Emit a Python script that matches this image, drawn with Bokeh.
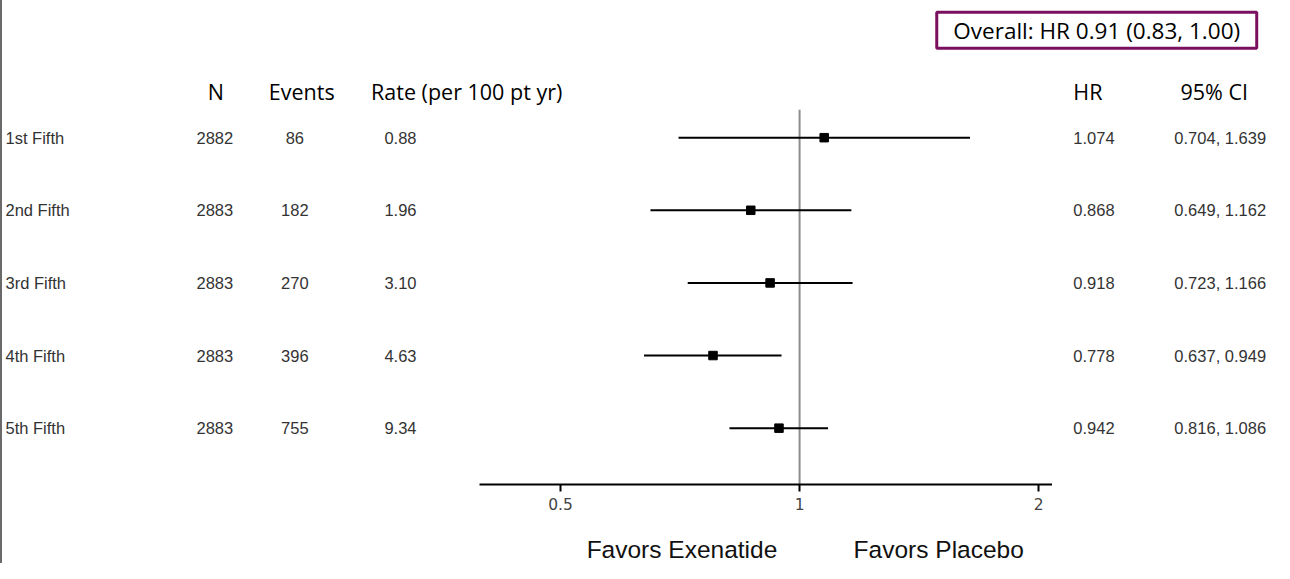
from bokeh.plotting import figure
from bokeh.models import Range1d, ColumnDataSource, FixedTicker, Div
from bokeh.layouts import column, row
from bokeh.embed import file_html
from bokeh.resources import INLINE
from bokeh.core.properties import value

# ---------------- data ----------------
subgroups = ["1st Fifth", "2nd Fifth", "3rd Fifth", "4th Fifth", "5th Fifth"]
n_patients = ["2882", "2883", "2883", "2883", "2883"]
events = ["86", "182", "270", "396", "755"]
rates = ["0.88", "1.96", "3.10", "4.63", "9.34"]
hr = [1.074, 0.868, 0.918, 0.778, 0.942]
ci_low = [0.704, 0.649, 0.723, 0.637, 0.816]
ci_high = [1.639, 1.162, 1.166, 0.949, 1.086]
hr_labels = ["1.074", "0.868", "0.918", "0.778", "0.942"]
ci_labels = ["0.704, 1.639", "0.649, 1.162", "0.723, 1.166", "0.637, 0.949", "0.816, 1.086"]
left_headers = ["N", "Events", "Rate (per 100 pt yr)"]
right_headers = ["HR", "95% CI"]
overall_text = "Overall: HR 0.91 (0.83, 1.00)"
x_ticks = [0.5, 1, 2]
tick_labels = ["0.5", "1", "2"]
null_hr = 1.0
left_label = "Favors Exenatide"
right_label = "Favors Placebo"

rows_y = list(range(len(subgroups)))

# ---------------- layout geometry (reference pixel space 1290 x 579) -------------
SX = 1272 / 1288
SY = 563 / 579
W_L = round(483 * SX)
W_F = round(580 * SX)
W_R = 1272 - W_L - W_F
TOP_END = 112
H_TOP = round(TOP_END * SY)
H_MAIN = round((535 - TOP_END) * SY)
H_BOT = 563 - H_TOP - H_MAIN
AX_H = round(37 * SY)

ROW0 = 141.0
ROWSTEP = 74.75
y_main = Range1d(start=(498 - ROW0) / ROWSTEP, end=(TOP_END - ROW0) / ROWSTEP)

TXT = "#333333"
SANS = value("Liberation Sans")
HEAD = value("Open Sans")


def blank(w, h, xr, yr):
    p = figure(width=w, height=h, x_range=xr, y_range=yr, output_backend="svg",
               toolbar_location=None, x_axis_location=None, y_axis_location=None,
               min_border=0, outline_line_color=None, background_fill_color="white",
               border_fill_color="white")
    p.grid.visible = False
    return p


src = ColumnDataSource(dict(y=rows_y, sub=subgroups, n=n_patients, ev=events, rate=rates,
                            hr=hr, lo=ci_low, hi=ci_high, hrl=hr_labels, cil=ci_labels))

# ---------- top strip: overall box + column headers ----------
top = blank(1272, H_TOP, Range1d(2, 1290), Range1d(TOP_END, 0))
top.quad(left=[948], right=[1272], top=[12], bottom=[49], fill_color=None,
         line_color="#7a1060", line_width=3)
top.text(x=[1110], y=[31], text=[overall_text], text_font=HEAD, text_font_size=value("22.5px"),
         text_align="center", text_baseline="middle", text_color="#000000")
top.text(x=[218, 305, 472, 1101, 1229], y=[94] * 5, text=left_headers + right_headers,
         text_font=HEAD, text_font_size=value("21.5px"), text_align="center",
         text_baseline="middle", text_color="#000000")

# ---------- left table ----------
L = blank(W_L, H_MAIN, Range1d(2, 485), y_main)
L.min_border_bottom = AX_H
L.text(x=5, y="y", text="sub", source=src, text_font=SANS, text_font_size=value("16.5px"),
       text_align="left", text_baseline="middle", text_color=TXT)
L.text(x=217, y="y", text="n", source=src, text_font=SANS, text_font_size=value("16.5px"),
       text_align="center", text_baseline="middle", text_color=TXT)
L.text(x=298, y="y", text="ev", source=src, text_font=SANS, text_font_size=value("16.5px"),
       text_align="center", text_baseline="middle", text_color=TXT)
L.text(x=405, y="y", text="rate", source=src, text_font=SANS, text_font_size=value("16.5px"),
       text_align="center", text_baseline="middle", text_color=TXT)

# ---------- forest ----------
F = figure(width=W_F, height=H_MAIN, x_axis_type="log",
           x_range=Range1d(2 ** ((485 - 809) / 242), 2 ** ((1065 - 809) / 242)),
           y_range=y_main, output_backend="svg", toolbar_location=None,
           y_axis_location=None, min_border=0, min_border_bottom=AX_H,
           outline_line_color=None)
F.grid.visible = False
F.segment(x0=[null_hr], y0=[y_main.end], x1=[null_hr], y1=[y_main.start],
          line_color="#8c8c8c", line_width=2)
F.segment(x0="lo", y0="y", x1="hi", y1="y", source=src, line_color="black", line_width=2)
F.scatter(x="hr", y="y", source=src, marker="square", size=8.5, color="black")
ax = F.xaxis[0]
ax.ticker = FixedTicker(ticks=x_ticks, minor_ticks=[])
ax.major_label_overrides = {t: l for t, l in zip(x_ticks, tick_labels)}
ax.axis_line_width = 2
ax.axis_line_color = "black"
ax.major_tick_line_width = 2
ax.major_tick_line_color = "black"
ax.major_tick_out = 7
ax.major_tick_in = 0
ax.minor_tick_line_color = None
ax.major_label_standoff = 6
ax.major_label_text_font = "DejaVu Sans"
ax.major_label_text_font_size = "15.5px"
ax.major_label_text_color = "#444444"

# ---------- right table ----------
R = blank(W_R, H_MAIN, Range1d(1065, 1290), y_main)
R.min_border_bottom = AX_H
R.text(x=1107, y="y", text="hrl", source=src, text_font=SANS, text_font_size=value("16.5px"),
       text_align="center", text_baseline="middle", text_color=TXT)
R.text(x=1235, y="y", text="cil", source=src, text_font=SANS, text_font_size=value("16.5px"),
       text_align="center", text_baseline="middle", text_color=TXT)

# ---------- bottom strip ----------
B = blank(1272, H_BOT, Range1d(2, 1290), Range1d(579, 535))
B.text(x=[690, 950], y=[565, 565], text=[left_label, right_label], text_font=SANS,
       text_font_size=value("24.5px"), text_align="center", text_baseline="middle",
       text_color="#111111")

border = Div(text="", width=2, height=563, margin=(0, 0, 0, 0),
             styles={"background-color": "#6a6a6a"})

layout = row(border, column(top, row(L, F, R, spacing=0), B, spacing=0), spacing=0)
open("out.html", "w").write(file_html(layout, INLINE))
